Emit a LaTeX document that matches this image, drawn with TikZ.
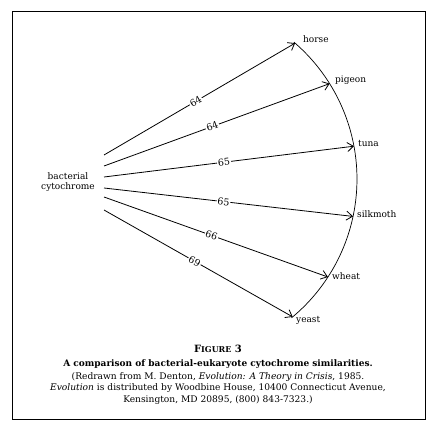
\documentclass[tikz,border=0pt]{standalone}
\usepackage{fontspec}
\setmainfont{DejaVu Serif}
\usetikzlibrary{arrows.meta}

\begin{document}
\begin{tikzpicture}[x=1pt,y=1pt,
  arr/.style={-{Straight Barb[length=6pt,width=9pt]}, line width=0.8pt},
  num/.style={sloped, fill=white, inner sep=0.8pt, pos=0.48, font=\fontsize{9.5}{10}\selectfont},
  spec/.style={anchor=base west, inner sep=0pt, font=\fontsize{9}{10}\selectfont}]
\useasboundingbox (0,0) rectangle (440,432);
\draw[line width=0.8pt] (12,13) rectangle (425,421);

\coordinate (c) at (177,253);
\node[align=center, inner sep=0pt, font=\fontsize{9}{10.5}\selectfont] (bact) at (68,250) {bacterial\\cytochrome};

% arc through the species
\draw[line width=0.7pt] (c) ++(49.5:180) arc[start angle=49.5, end angle=-50.5, radius=180];
\path (c) ++(49:180) coordinate (horse)
      (c) ++(32:180) coordinate (pigeon)
      (c) ++(10.5:180) coordinate (tuna)
      (c) ++(-12:180) coordinate (silkmoth)
      (c) ++(-33:180) coordinate (wheat)
      (c) ++(-50:180) coordinate (yeast);

\node[spec] (lhorse) at (303,389) {horse};
\node[spec] (lpigeon) at (335,349) {pigeon};
\node[spec] (ltuna) at (358,285) {tuna};
\node[spec] (lsilkmoth) at (357,214) {silkmoth};
\node[spec] (lwheat) at (332,152) {wheat};
\node[spec] (lyeast) at (296,109) {yeast};

\coordinate (s1) at (104,277);
\coordinate (s2) at (104,266);
\coordinate (s3) at (104,255);
\coordinate (s4) at (104,244);
\coordinate (s5) at (104,235);
\coordinate (s6) at (104,222);

\draw[arr] (s1) -- node[num] {64} (horse);
\draw[arr] (s2) -- node[num] {64} (pigeon);
\draw[arr] (s3) -- node[num] {65} (tuna);
\draw[arr] (s4) -- node[num] {65} (silkmoth);
\draw[arr] (s5) -- node[num] {66} (wheat);
\draw[arr] (s6) -- node[num] {69} (yeast);

% caption
\node[anchor=base, font=\bfseries\fontsize{10}{11}\selectfont] (fig) at (218,80) {F{\fontsize{8}{9}\selectfont IGURE} 3};
\node[anchor=base, font=\bfseries\fontsize{9}{10}\selectfont] (title) at (218,65) {A comparison of bacterial-eukaryote cytochrome similarities.};
\node[anchor=north, align=center, inner sep=0pt, font=\fontsize{9.1}{11.8}\selectfont] (credit) at (218,60)
  {(Redrawn from M. Denton, \textit{Evolution: A Theory in Crisis}, 1985.\\
   \textit{Evolution} is distributed by Woodbine House, 10400 Connecticut Avenue,\\
   Kensington, MD 20895, (800) 843-7323.)};
\end{tikzpicture}
\end{document}
